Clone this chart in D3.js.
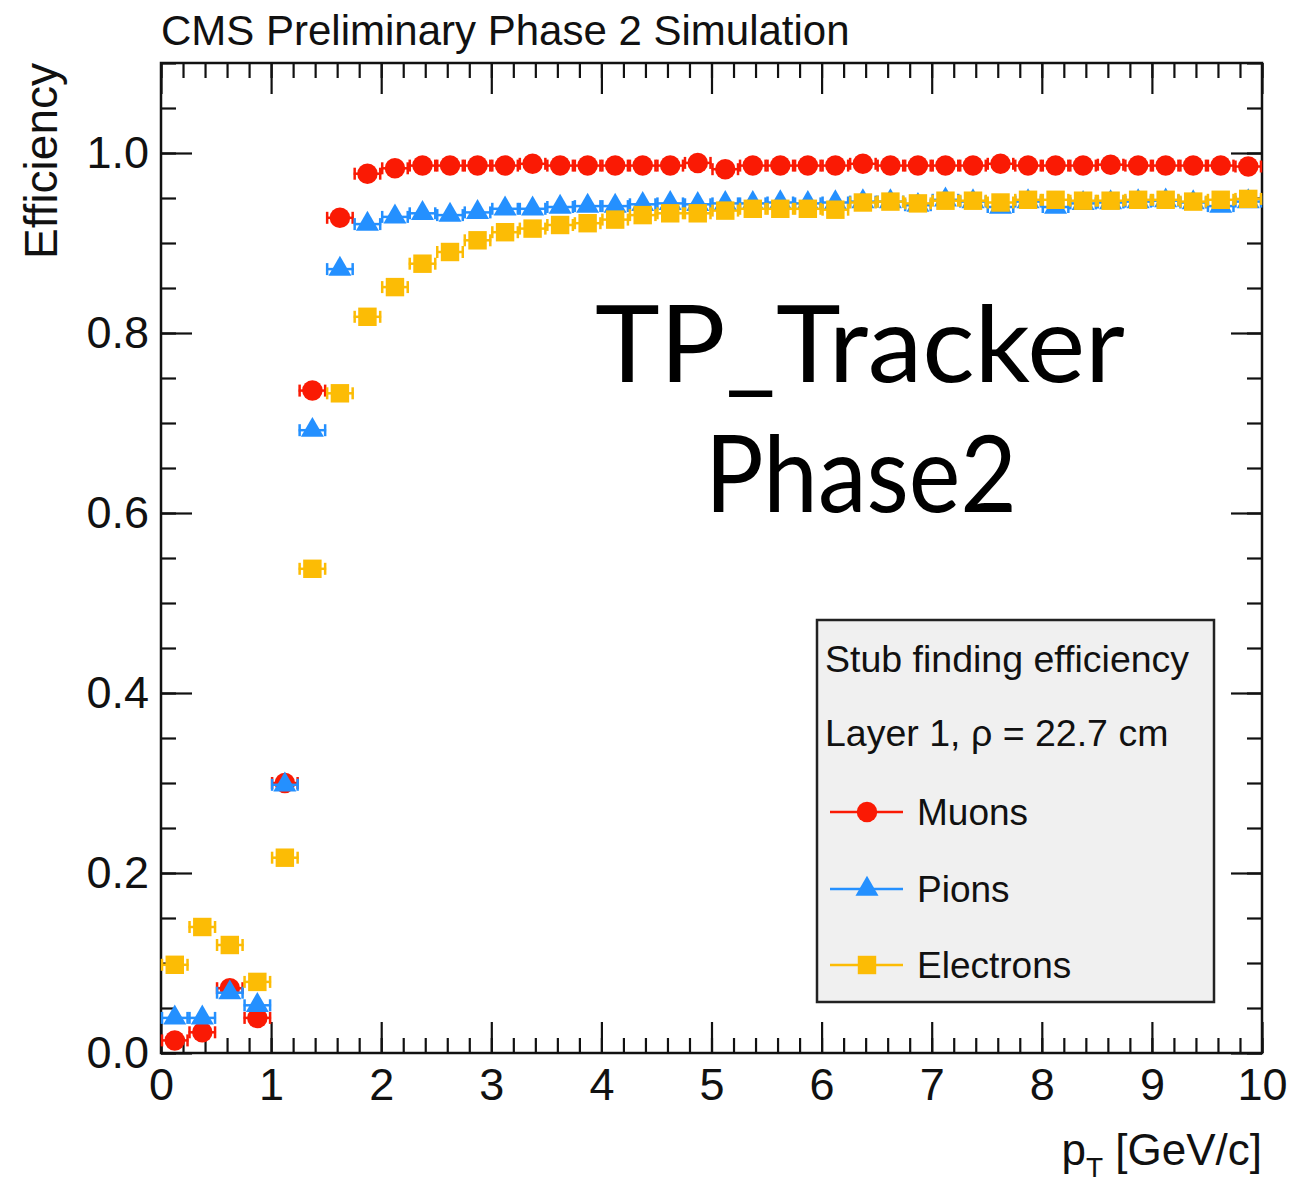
<!DOCTYPE html>
<html>
<head>
<meta charset="utf-8">
<script src="https://cdn.jsdelivr.net/npm/d3@7"></script>
<style>
  body { margin: 0; background: #fff; }
  text { font-family: "Liberation Sans", Arial, Helvetica, sans-serif; }
</style>
</head>
<body>
<div id="chart"></div>
<script>
// bin centres in pT (GeV/c), 0.25 wide bins
var ptBins = [0.125, 0.375, 0.625, 0.875, 1.125, 1.375, 1.625, 1.875, 2.125, 2.375,
              2.625, 2.875, 3.125, 3.375, 3.625, 3.875, 4.125, 4.375, 4.625, 4.875,
              5.125, 5.375, 5.625, 5.875, 6.125, 6.375, 6.625, 6.875, 7.125, 7.375,
              7.625, 7.875, 8.125, 8.375, 8.625, 8.875, 9.125, 9.375, 9.625, 9.875];
var binHalf = 0.125;

var muons = [0.014, 0.023, 0.072, 0.039, 0.300, 0.736, 0.928, 0.977, 0.983, 0.986,
             0.986, 0.986, 0.986, 0.988, 0.986, 0.986, 0.986, 0.986, 0.986, 0.989,
             0.982, 0.986, 0.986, 0.986, 0.986, 0.988, 0.986, 0.986, 0.986, 0.986,
             0.988, 0.986, 0.986, 0.986, 0.987, 0.986, 0.986, 0.986, 0.986, 0.985];
var pions = [0.039, 0.039, 0.067, 0.053, 0.298, 0.692, 0.871, 0.921, 0.929, 0.933,
             0.931, 0.934, 0.938, 0.938, 0.940, 0.941, 0.941, 0.943, 0.944, 0.943,
             0.944, 0.944, 0.945, 0.944, 0.945, 0.946, 0.946, 0.942, 0.948, 0.946,
             0.940, 0.946, 0.940, 0.944, 0.945, 0.946, 0.947, 0.945, 0.941, 0.946];
var electrons = [0.098, 0.140, 0.120, 0.079, 0.217, 0.538, 0.733, 0.818, 0.851, 0.877,
                 0.890, 0.903, 0.912, 0.916, 0.920, 0.922, 0.926, 0.931, 0.933, 0.933,
                 0.936, 0.938, 0.938, 0.938, 0.937, 0.945, 0.946, 0.944, 0.947, 0.947,
                 0.945, 0.948, 0.948, 0.947, 0.947, 0.948, 0.948, 0.946, 0.948, 0.949];

var seriesNames = ["Muons", "Pions", "Electrons"];
var xMajor = [0, 1, 2, 3, 4, 5, 6, 7, 8, 9, 10];
var yMajor = [0.0, 0.2, 0.4, 0.6, 0.8, 1.0];

var width = 1292, height = 1189;
var margin = {top: 63, left: 161, right: 30, bottom: 136};

var svg = d3.select("#chart").append("svg")
    .attr("width", width)
    .attr("height", height);

var x = d3.scaleLinear().domain([0, 10]).range([margin.left, width - margin.right]);
var y = d3.scaleLinear().domain([0, 1.1]).range([height - margin.bottom, margin.top]);

var x0 = x.range()[0], x1 = x.range()[1], y0 = y.range()[0], y1 = y.range()[1];

// minor ticks
var xMinor = d3.range(0, 10.001, 0.2);
var yMinor = d3.range(0, 1.1001, 0.05);

function styleAxis(g) {
  g.select(".domain").remove();
  g.selectAll("line").attr("stroke", "#111").attr("stroke-width", 2.2);
  g.selectAll("text").attr("fill", "#111").attr("font-size", 45);
}

// bottom
svg.append("g").attr("transform", "translate(0," + y0 + ")")
  .call(d3.axisBottom(x).tickValues(xMinor).tickSize(-15).tickFormat(""))
  .call(styleAxis);
svg.append("g").attr("transform", "translate(0," + y0 + ")")
  .call(d3.axisBottom(x).tickValues(xMajor).tickSize(-31).tickPadding(15).tickFormat(d3.format("d")))
  .call(styleAxis);
// top
svg.append("g").attr("transform", "translate(0," + y1 + ")")
  .call(d3.axisTop(x).tickValues(xMinor).tickSize(-15).tickFormat(""))
  .call(styleAxis);
svg.append("g").attr("transform", "translate(0," + y1 + ")")
  .call(d3.axisTop(x).tickValues(xMajor).tickSize(-31).tickFormat(""))
  .call(styleAxis);
// left
svg.append("g").attr("transform", "translate(" + x0 + ",0)")
  .call(d3.axisLeft(y).tickValues(yMinor).tickSize(-15).tickFormat(""))
  .call(styleAxis);
svg.append("g").attr("transform", "translate(" + x0 + ",0)")
  .call(d3.axisLeft(y).tickValues(yMajor).tickSize(-31).tickPadding(12).tickFormat(d3.format(".1f")))
  .call(styleAxis);
// right
svg.append("g").attr("transform", "translate(" + x1 + ",0)")
  .call(d3.axisRight(y).tickValues(yMinor).tickSize(-15).tickFormat(""))
  .call(styleAxis);
svg.append("g").attr("transform", "translate(" + x1 + ",0)")
  .call(d3.axisRight(y).tickValues(yMajor).tickSize(-31).tickFormat(""))
  .call(styleAxis);

// frame
svg.append("rect")
  .attr("x", x0).attr("y", y1)
  .attr("width", x1 - x0).attr("height", y0 - y1)
  .attr("fill", "none").attr("stroke", "#111").attr("stroke-width", 2.5);

// titles
svg.append("text").attr("x", x0).attr("y", 45)
  .attr("font-size", 42).attr("fill", "#111")
  .text("CMS Preliminary Phase 2 Simulation");

svg.append("text")
  .attr("transform", "translate(57," + y1 + ") rotate(-90)")
  .attr("text-anchor", "end")
  .attr("font-size", 46).attr("fill", "#111")
  .text("Efficiency");

var xt = svg.append("text").attr("x", x1).attr("y", 1165)
  .attr("text-anchor", "end").attr("font-size", 44).attr("fill", "#111");
xt.append("tspan").text("p");
xt.append("tspan").attr("font-size", 28).attr("dy", 12).text("T");
xt.append("tspan").attr("dy", -12).text(" [GeV/c]");

// series
var colors = ["#fa1a04", "#2490ff", "#fcbc05"];
var symbols = [d3.symbolCircle, d3.symbolTriangle, d3.symbolSquare];
var sizes = [330, 230, 340];
var allSeries = [muons, pions, electrons];

allSeries.forEach(function(vals, s) {
  var pts = vals.map(function(v, i) { return {pt: ptBins[i], eff: v}; });
  var g = svg.append("g").attr("class", "series-" + s);

  g.selectAll(".ebar").data(pts).enter().append("line")
    .attr("x1", function(d) { return x(d.pt - binHalf); })
    .attr("x2", function(d) { return x(d.pt + binHalf); })
    .attr("y1", function(d) { return y(d.eff); })
    .attr("y2", function(d) { return y(d.eff); })
    .attr("stroke", colors[s]).attr("stroke-width", 2.5);

  g.selectAll(".capL").data(pts).enter().append("line")
    .attr("x1", function(d) { return x(d.pt - binHalf) + 1; })
    .attr("x2", function(d) { return x(d.pt - binHalf) + 1; })
    .attr("y1", function(d) { return y(d.eff) - 6; })
    .attr("y2", function(d) { return y(d.eff) + 6; })
    .attr("stroke", colors[s]).attr("stroke-width", 2.5);

  g.selectAll(".capR").data(pts).enter().append("line")
    .attr("x1", function(d) { return x(d.pt + binHalf) - 1; })
    .attr("x2", function(d) { return x(d.pt + binHalf) - 1; })
    .attr("y1", function(d) { return y(d.eff) - 6; })
    .attr("y2", function(d) { return y(d.eff) + 6; })
    .attr("stroke", colors[s]).attr("stroke-width", 2.5);

  g.selectAll(".mk").data(pts).enter().append("path")
    .attr("d", d3.symbol().type(symbols[s]).size(sizes[s]))
    .attr("transform", function(d) { return "translate(" + x(d.pt) + "," + y(d.eff) + ")"; })
    .attr("fill", colors[s]);
});

// big annotation
svg.append("text").attr("x", 860).attr("y", 382)
  .attr("text-anchor", "middle")
  .style("font-family", "Lato, 'Open Sans', sans-serif")
  .attr("font-size", 106).attr("fill", "#000")
  .attr("textLength", 530).attr("lengthAdjust", "spacingAndGlyphs")
  .text("TP_Tracker");
svg.append("text").attr("x", 861).attr("y", 512)
  .attr("text-anchor", "middle")
  .style("font-family", "Lato, 'Open Sans', sans-serif")
  .attr("font-size", 106).attr("fill", "#000")
  .attr("textLength", 312).attr("lengthAdjust", "spacingAndGlyphs")
  .text("Phase2");

// legend
var leg = svg.append("g");
leg.append("rect")
  .attr("x", 817).attr("y", 620).attr("width", 397).attr("height", 382)
  .attr("fill", "#f0f0f0").attr("stroke", "#222").attr("stroke-width", 2.5);
leg.append("text").attr("x", 825).attr("y", 672)
  .attr("font-size", 37.5).attr("fill", "#111").text("Stub finding efficiency");
leg.append("text").attr("x", 825).attr("y", 746)
  .attr("font-size", 37.5).attr("fill", "#111").text("Layer 1, \u03C1 = 22.7 cm");

var legY = [812, 889, 965];
seriesNames.forEach(function(name, s) {
  leg.append("line").attr("x1", 830).attr("x2", 903)
    .attr("y1", legY[s]).attr("y2", legY[s])
    .attr("stroke", colors[s]).attr("stroke-width", 2.5);
  leg.append("path")
    .attr("d", d3.symbol().type(symbols[s]).size(sizes[s]))
    .attr("transform", "translate(867," + legY[s] + ")")
    .attr("fill", colors[s]);
  leg.append("text").attr("x", 917).attr("y", legY[s] + 13)
    .attr("font-size", 37).attr("fill", "#111").text(name);
});
</script>
</body>
</html>
